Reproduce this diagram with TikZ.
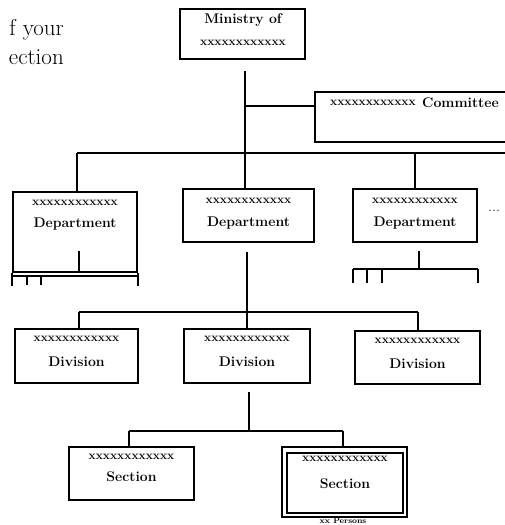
\documentclass[tikz,border=0pt]{standalone}
\begin{document}
\begin{tikzpicture}[x=1pt,y=-1pt,
  box/.style={draw, line width=1.7pt, inner sep=0pt, fill=none},
  ln/.style={line width=1.7pt},
  word/.style={font=\fontsize{14}{14}\selectfont\bfseries, inner sep=0pt},
  xs/.style={font=\fontsize{12}{12}\selectfont\bfseries, inner sep=0pt},
  body/.style={font=\fontsize{23}{23}\selectfont, inner sep=0pt}]
\useasboundingbox (0,0) rectangle (504,525);

% stray running text at left
\node[body, anchor=base east] (t1) at (64,35) {f your};
\node[body, anchor=base east] (t2) at (64,64) {ection};

% Ministry
\node[box, minimum width=125pt, minimum height=50pt] (min) at (242.5,34) {};
\node[word] (minA) at (243,20) {Ministry of};
\node[xs] (minB) at (243,43) {xxxxxxxxxxxx};

% trunk and committee
\coordinate (t0) at (245,71);
\coordinate (cj) at (245,106);
\coordinate (bj) at (245,153);
\node[box, minimum width=195pt, minimum height=50pt] (com) at (412.5,117) {};
\node[xs, anchor=west] (comA) at (330,103) {xxxxxxxxxxxx};
\node[word, anchor=west] (comB) at (422,103) {Committee};
\draw[ln] (t0) -- (bj);
\draw[ln] (cj) -- (cj -| com.west);

% department bus
\coordinate (busL) at (77,153);
\coordinate (busR) at (506,153);
\draw[ln] (busL) -- (busR);

% departments
\node[box, minimum width=124pt, minimum height=80pt] (d1) at (75,232) {};
\node[xs] (d1a) at (75,203) {xxxxxxxxxxxx};
\node[word] (d1b) at (75,224) {Department};
\node[box, minimum width=131pt, minimum height=53pt] (d2) at (248.5,215.5) {};
\node[xs] (d2a) at (248.5,201) {xxxxxxxxxxxx};
\node[word] (d2b) at (248.5,223) {Department};
\node[box, minimum width=124pt, minimum height=53pt] (d3) at (415,215.5) {};
\node[xs] (d3a) at (415,201) {xxxxxxxxxxxx};
\node[word] (d3b) at (415,223) {Department};
\node[font=\fontsize{16}{16}\selectfont, inner sep=0pt] (dots) at (494,211) {...};

\draw[ln] (busL) -- (busL |- d1.north);
\draw[ln] (bj) -- (bj |- d2.north);
\coordinate (b3) at (415,153);
\draw[ln] (b3) -- (b3 |- d3.north);

% left department remnants
\coordinate (l0) at (79,251);
\draw[ln] (l0) -- (l0 |- d1.south);
\coordinate (lbL) at (13,276);
\coordinate (lbR) at (137,276);
\draw[ln] (lbL) -- (lbR);
\draw[ln] (d1.south west) -- ++(0,13);
\draw[ln] (d1.south east) -- ++(0,13);
\draw[ln] (27,276) -- (27,285);
\draw[ln] (41,276) -- (41,285);

% right department remnants
\coordinate (r0) at (419,251);
\coordinate (r1) at (419,269);
\coordinate (rbL) at (353,269);
\coordinate (rbR) at (478,269);
\draw[ln] (r0) -- (r1);
\draw[ln] (rbL) -- (rbR);
\draw[ln] (rbL) -- ++(0,14);
\draw[ln] (367,269) -- ++(0,14);
\draw[ln] (382,269) -- ++(0,14);
\draw[ln] (rbR) -- ++(0,14);

% divisions
\node[box, minimum width=123pt, minimum height=54pt] (v1) at (76.5,356) {};
\node[xs] (v1a) at (76.5,339) {xxxxxxxxxxxx};
\node[word] (v1b) at (76.5,362) {Division};
\node[box, minimum width=126pt, minimum height=54pt] (v2) at (247,356) {};
\node[xs] (v2a) at (247,339) {xxxxxxxxxxxx};
\node[word] (v2b) at (247,362) {Division};
\node[box, minimum width=125pt, minimum height=53pt] (v3) at (417.5,357.5) {};
\node[xs] (v3a) at (417.5,341) {xxxxxxxxxxxx};
\node[word] (v3b) at (417.5,364) {Division};

\coordinate (m0) at (247,252);
\coordinate (vj) at (247,312);
\coordinate (vL) at (79,312);
\coordinate (vR) at (418,312);
\draw[ln] (m0) -- (vj);
\draw[ln] (vL) -- (vR);
\draw[ln] (vL) -- (vL |- v1.north);
\draw[ln] (vj) -- (vj |- v2.north);
\draw[ln] (vR) -- (vR |- v3.north);

% sections
\node[box, minimum width=125pt, minimum height=53pt] (s1) at (131.5,473.5) {};
\node[xs] (s1a) at (131.5,457) {xxxxxxxxxxxx};
\node[word] (s1b) at (131.5,477) {Section};
\node[box, minimum width=125pt, minimum height=70pt] (s2) at (344.5,482) {};
\node[box, line width=1.2pt, minimum width=116pt, minimum height=60pt] (s2i) at (345,483) {};
\node[xs] (s2a) at (345,459) {xxxxxxxxxxxx};
\node[word] (s2b) at (345,484) {Section};
\node[font=\fontsize{8}{8}\selectfont\bfseries, inner sep=0pt] (pers) at (343,521) {xx Persons};

\coordinate (q0) at (249,392);
\coordinate (qj) at (249,431);
\coordinate (qL) at (129,431);
\coordinate (qR) at (343,431);
\draw[ln] (q0) -- (qj);
\draw[ln] (qL) -- (qR);
\draw[ln] (qL) -- (qL |- s1.north);
\draw[ln] (qR) -- (qR |- s2.north);
\end{tikzpicture}
\end{document}
